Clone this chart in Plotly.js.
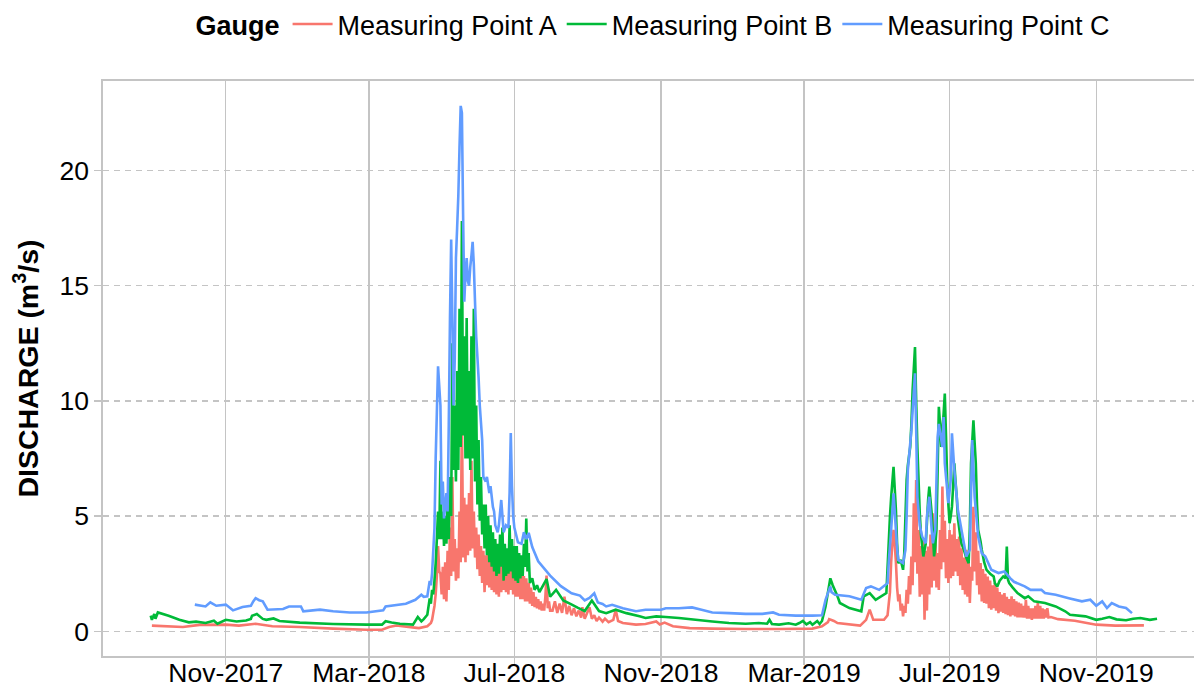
<!DOCTYPE html>
<html>
<head>
<meta charset="utf-8">
<script src="https://cdn.plot.ly/plotly-3.0.1.min.js"></script>
<style>html,body{margin:0;padding:0;background:#fff;}#chart{width:1194px;height:693px;}</style>
</head>
<body>
<div id="chart"></div>
<script>
// ---- Data ----
const seriesNames = ["Measuring Point A", "Measuring Point B", "Measuring Point C"];

const aDates = ["2017-08-31","2017-09-26","2017-10-10","2017-11-01","2017-11-12","2017-11-26","2017-12-10","2018-01-02","2018-01-30","2018-02-27","2018-03-12","2018-03-18","2018-03-24","2018-04-10","2018-04-12","2018-04-19",
"2018-04-22","2018-04-23","2018-04-24","2018-04-25","2018-04-26","2018-04-27","2018-04-28","2018-04-29","2018-04-30",
"2018-05-01","2018-05-02","2018-05-03","2018-05-04","2018-05-05","2018-05-06","2018-05-07","2018-05-08","2018-05-09","2018-05-10","2018-05-11","2018-05-12","2018-05-13","2018-05-14","2018-05-15","2018-05-16","2018-05-17","2018-05-18","2018-05-19","2018-05-20","2018-05-21","2018-05-22","2018-05-23","2018-05-24","2018-05-25","2018-05-26","2018-05-27","2018-05-28","2018-05-29","2018-05-30","2018-05-31",
"2018-06-01","2018-06-02","2018-06-03","2018-06-04","2018-06-05","2018-06-06","2018-06-07","2018-06-08","2018-06-09","2018-06-10","2018-06-11","2018-06-12","2018-06-13","2018-06-14","2018-06-15","2018-06-16","2018-06-17","2018-06-18","2018-06-19","2018-06-20","2018-06-21","2018-06-22","2018-06-23","2018-06-24","2018-06-25","2018-06-26","2018-06-27","2018-06-28","2018-06-29","2018-06-30",
"2018-07-01","2018-07-02","2018-07-03","2018-07-04","2018-07-05","2018-07-06","2018-07-07","2018-07-08","2018-07-09","2018-07-10","2018-07-11","2018-07-12","2018-07-13","2018-07-14","2018-07-15","2018-07-16","2018-07-17","2018-07-18","2018-07-19","2018-07-20","2018-07-21","2018-07-22","2018-07-23","2018-07-24","2018-07-25","2018-07-26","2018-07-27","2018-07-28","2018-07-29","2018-07-30","2018-07-31",
"2018-08-02","2018-08-04","2018-08-06","2018-08-08","2018-08-10","2018-08-12","2018-08-14","2018-08-16","2018-08-18","2018-08-20","2018-08-22","2018-08-24","2018-08-26","2018-08-27","2018-08-29","2018-08-31","2018-09-02","2018-09-04","2018-09-06","2018-09-08","2018-09-10","2018-09-13","2018-09-15","2018-09-18","2018-09-22","2018-09-24","2018-09-26","2018-09-30",
"2018-10-11","2018-10-19","2018-10-28","2018-10-31","2018-11-04","2018-11-11","2018-11-25","2018-12-14","2019-01-11","2019-02-08","2019-03-08","2019-03-16","2019-03-21","2019-03-22","2019-03-26","2019-03-29","2019-04-17","2019-04-22","2019-04-25","2019-04-28","2019-05-07",
"2019-05-10","2019-05-11","2019-05-12","2019-05-13","2019-05-14","2019-05-15","2019-05-16","2019-05-17","2019-05-18","2019-05-19","2019-05-20","2019-05-21","2019-05-22","2019-05-23","2019-05-24","2019-05-25","2019-05-26","2019-05-27","2019-05-28","2019-05-29","2019-05-30","2019-05-31",
"2019-06-01","2019-06-02","2019-06-03","2019-06-04","2019-06-05","2019-06-06","2019-06-07","2019-06-08","2019-06-09","2019-06-10","2019-06-11","2019-06-12","2019-06-13","2019-06-14","2019-06-15","2019-06-16","2019-06-17","2019-06-18","2019-06-19","2019-06-20","2019-06-21","2019-06-22","2019-06-23","2019-06-24","2019-06-25","2019-06-26","2019-06-27","2019-06-28","2019-06-29","2019-06-30",
"2019-07-01","2019-07-02","2019-07-03","2019-07-04","2019-07-05","2019-07-06","2019-07-07","2019-07-08","2019-07-09","2019-07-10","2019-07-11","2019-07-12","2019-07-13","2019-07-14","2019-07-15","2019-07-16","2019-07-17","2019-07-18","2019-07-19","2019-07-20","2019-07-21","2019-07-22","2019-07-23","2019-07-24","2019-07-25","2019-07-26","2019-07-27","2019-07-28","2019-07-29","2019-07-30","2019-07-31",
"2019-08-01","2019-08-02","2019-08-03","2019-08-04","2019-08-05","2019-08-06","2019-08-07","2019-08-08","2019-08-09","2019-08-10","2019-08-11","2019-08-12","2019-08-13","2019-08-14","2019-08-15","2019-08-16","2019-08-17","2019-08-18","2019-08-19","2019-08-20","2019-08-21","2019-08-22","2019-08-23","2019-08-24","2019-08-25","2019-08-26","2019-08-27","2019-08-28","2019-08-29","2019-08-30","2019-08-31",
"2019-09-01","2019-09-02","2019-09-03","2019-09-04","2019-09-05","2019-09-06","2019-09-07","2019-09-08","2019-09-09","2019-09-10","2019-09-11","2019-09-12","2019-09-13","2019-09-14","2019-09-15","2019-09-16","2019-09-17","2019-09-18","2019-09-19","2019-09-20","2019-09-21","2019-09-22",
"2019-09-24","2019-09-30","2019-10-14","2019-11-01","2019-11-17","2019-12-11"];
const aVals = [0.25,0.19,0.28,0.29,0.25,0.33,0.22,0.19,0.12,0.07,0.07,0.19,0.25,0.15,0.14,0.22,
0.36,0.5,0.8,1.1,1.6,2.4,3.7,2.6,2.5,
1.6,2.8,1.4,3.0,1.3,3.5,1.8,4.5,2.4,6.7,2.6,4.0,2.2,3.6,2.3,5.2,3.0,9.6,3.2,5.8,3.0,5.5,3.3,6.0,3.5,7.4,3.6,5.2,3.2,4.5,2.7,
4.2,2.4,3.7,2.1,3.5,1.7,3.3,2.0,3.4,1.9,3.2,1.8,3.0,1.7,3.1,1.6,2.8,1.5,3.0,1.7,3.3,1.8,3.0,1.7,2.9,1.6,3.4,1.8,3.0,1.6,
2.8,1.5,2.7,1.5,2.6,1.4,2.5,1.4,2.4,1.3,2.3,1.3,2.1,1.2,1.9,1.1,1.7,1.05,1.5,1.0,1.4,0.95,1.3,0.9,1.2,0.9,1.5,2.42,1.0,1.3,0.9,
0.9,1.3,0.8,1.2,0.8,1.5,0.75,1.1,0.7,1.0,0.65,0.9,0.6,1.05,0.55,0.8,1.05,0.55,0.7,0.45,0.6,0.42,0.55,0.4,0.5,0.94,0.45,0.36,
0.29,0.32,0.43,0.3,0.38,0.22,0.14,0.12,0.1,0.1,0.12,0.22,0.4,0.53,0.45,0.36,0.25,0.5,0.94,0.5,0.5,
0.7,1.2,1.7,3.0,3.8,4.4,3.8,3.0,1.9,1.3,1.6,0.9,1.2,0.65,1.1,0.8,1.8,1.2,2.4,1.6,3.25,2.0,
5.56,3.0,6.57,2.5,4.4,1.5,3.7,1.6,4.0,0.5,3.5,0.9,3.68,1.6,4.2,1.9,5.12,2.2,4.3,1.9,3.4,1.8,4.4,2.7,6.28,3.0,4.8,2.3,4.0,2.1,
4.4,2.3,4.2,2.4,4.69,2.6,4.0,2.4,4.11,2.0,3.6,1.8,3.2,1.6,3.54,1.5,3.0,1.23,2.8,2.2,5.41,2.6,4.3,2.0,3.5,1.6,2.96,1.3,2.7,1.23,2.5,
1.2,2.38,1.0,2.2,0.94,2.0,1.0,2.09,0.9,1.9,0.79,1.7,0.85,1.6,0.8,1.66,0.75,1.5,0.7,1.4,0.65,1.52,0.7,1.4,0.65,1.3,0.6,1.25,0.6,1.2,0.6,
1.1,0.6,1.37,0.55,1.1,0.55,1.0,0.5,1.0,0.55,1.1,0.55,1.23,0.55,1.1,0.55,1.0,0.55,0.95,0.6,1.0,0.6,
0.62,0.53,0.46,0.29,0.25,0.26];

const bDates = ["2017-08-30","2017-08-31","2017-09-02","2017-09-03","2017-09-05","2017-09-14","2017-09-23","2017-10-01","2017-10-07","2017-10-15","2017-10-22","2017-10-25","2017-11-01","2017-11-10","2017-11-18","2017-11-22","2017-11-23","2017-11-27","2017-12-02","2017-12-05","2017-12-11","2017-12-16","2018-01-02","2018-01-30","2018-02-27","2018-03-12","2018-03-15","2018-03-20","2018-03-27","2018-04-07","2018-04-11","2018-04-14","2018-04-16","2018-04-19",
"2018-04-21","2018-04-22","2018-04-23","2018-04-24","2018-04-25","2018-04-26","2018-04-27","2018-04-28","2018-04-29","2018-04-30",
"2018-05-01","2018-05-02","2018-05-03","2018-05-04","2018-05-05","2018-05-06","2018-05-07","2018-05-08","2018-05-09","2018-05-10","2018-05-11","2018-05-12","2018-05-13","2018-05-14","2018-05-15","2018-05-16","2018-05-17","2018-05-18","2018-05-19","2018-05-20","2018-05-21","2018-05-22","2018-05-23","2018-05-24","2018-05-25","2018-05-26","2018-05-27","2018-05-28","2018-05-29","2018-05-30","2018-05-31",
"2018-06-01","2018-06-02","2018-06-03","2018-06-04","2018-06-05","2018-06-06","2018-06-07","2018-06-08","2018-06-09","2018-06-10","2018-06-11","2018-06-12","2018-06-13","2018-06-14","2018-06-15","2018-06-16","2018-06-17","2018-06-18","2018-06-19","2018-06-20","2018-06-21","2018-06-22","2018-06-23","2018-06-24","2018-06-25","2018-06-26","2018-06-27","2018-06-28","2018-06-29","2018-06-30",
"2018-07-01","2018-07-02","2018-07-03","2018-07-04","2018-07-05","2018-07-06","2018-07-07","2018-07-08","2018-07-09","2018-07-10","2018-07-11","2018-07-12","2018-07-13","2018-07-14","2018-07-16","2018-07-18","2018-07-20","2018-07-22",
"2018-07-28","2018-07-31","2018-08-05","2018-08-11","2018-08-17","2018-08-23","2018-08-29","2018-09-04","2018-09-10","2018-09-16","2018-09-24","2018-10-03","2018-10-14","2018-10-19","2018-10-28","2018-11-05","2018-11-16","2018-11-30","2018-12-14","2018-12-28","2019-01-11","2019-01-22","2019-01-29","2019-01-31","2019-02-02","2019-02-08","2019-02-16","2019-02-22","2019-02-25","2019-02-28","2019-03-03","2019-03-06","2019-03-08","2019-03-12","2019-03-14","2019-03-16","2019-03-19","2019-03-23","2019-03-25","2019-03-29","2019-03-31","2019-04-08","2019-04-18","2019-04-20","2019-04-25","2019-04-30","2019-05-09","2019-05-12","2019-05-13","2019-05-15","2019-05-17","2019-05-18","2019-05-19","2019-05-21","2019-05-23","2019-05-24","2019-05-26","2019-05-27","2019-05-29","2019-05-30","2019-05-31","2019-06-02","2019-06-03","2019-06-04","2019-06-06","2019-06-07","2019-06-09","2019-06-11","2019-06-12","2019-06-13","2019-06-14","2019-06-16","2019-06-17","2019-06-18","2019-06-19","2019-06-20","2019-06-21","2019-06-22","2019-06-23","2019-06-24","2019-06-25","2019-06-26","2019-06-27","2019-06-28","2019-06-29","2019-06-30","2019-07-01","2019-07-02","2019-07-03","2019-07-04","2019-07-05","2019-07-06","2019-07-07","2019-07-08","2019-07-10","2019-07-11","2019-07-13","2019-07-15","2019-07-17","2019-07-18","2019-07-19","2019-07-21","2019-07-22","2019-07-23","2019-07-24","2019-07-25","2019-07-27","2019-07-28","2019-07-30","2019-08-01","2019-08-04","2019-08-07","2019-08-08","2019-08-10","2019-08-12","2019-08-15","2019-08-17","2019-08-18","2019-08-19","2019-08-20","2019-08-23","2019-08-27","2019-09-02","2019-09-05","2019-09-10","2019-09-19","2019-09-28","2019-10-06","2019-10-10","2019-10-23","2019-11-01","2019-11-06","2019-11-12","2019-11-18","2019-11-26","2019-12-02","2019-12-08","2019-12-16","2019-12-22"];
const bVals = [0.68,0.5,0.75,0.55,0.82,0.68,0.5,0.39,0.42,0.36,0.46,0.33,0.5,0.43,0.47,0.54,0.68,0.75,0.54,0.5,0.56,0.45,0.38,0.32,0.29,0.29,0.44,0.38,0.33,0.29,0.62,0.43,0.53,0.72,
1.43,1.2,1.8,1.6,2.2,2.95,4.0,5.2,4.0,7.4,
4.0,5.2,3.7,5.0,3.8,5.5,4.0,6.7,5.0,12.5,7.0,9.8,6.5,11.3,7.0,14.0,8.0,17.8,8.5,12.8,7.5,13.6,7.5,11.3,7.0,12.8,7.5,14.0,6.5,9.8,5.5,
8.3,4.8,6.7,4.2,5.5,3.6,5.5,3.3,5.0,3.0,4.6,2.8,4.3,2.6,4.0,2.4,3.8,2.5,4.2,2.8,4.5,2.2,3.8,2.4,3.6,2.5,4.6,2.6,4.0,2.3,
3.7,2.2,3.7,2.1,3.4,2.3,3.3,2.4,3.8,2.8,4.9,2.6,3.4,2.1,2.3,1.8,2.0,1.7,
2.27,1.5,1.8,1.34,1.19,1.03,0.88,1.34,0.88,0.79,0.94,0.79,0.65,0.58,0.65,0.62,0.58,0.5,0.43,0.36,0.33,0.36,0.33,0.5,0.32,0.29,0.35,0.29,0.36,0.45,0.3,0.4,0.29,0.45,0.32,0.45,1.08,2.3,2.0,1.52,1.23,1.01,0.87,1.52,1.66,1.37,1.66,4.98,5.8,7.14,5.27,3.8,2.96,3.1,2.67,3.4,6.57,7.2,8.0,9.0,10.46,12.34,10.0,8.0,5.12,4.2,3.25,3.8,4.69,5.7,6.28,5.12,4.3,3.25,3.7,4.4,7.0,9.74,9.0,8.0,8.8,9.45,10.32,8.5,6.57,5.5,4.69,5.0,5.41,6.3,7.29,6.5,5.84,4.9,4.11,3.8,3.54,3.2,2.96,4.5,7.29,9.16,8.2,7.29,5.5,4.4,3.9,3.54,3.0,2.67,2.5,2.38,2.09,1.95,2.2,2.38,2.3,3.68,2.24,2.09,1.9,1.66,1.44,1.52,1.3,1.23,1.08,0.87,0.72,0.65,0.5,0.55,0.62,0.52,0.48,0.55,0.58,0.5,0.55];

const cDates = ["2017-10-06","2017-10-15","2017-10-19","2017-10-24","2017-11-01","2017-11-07","2017-11-15","2017-11-22","2017-11-24","2017-11-26","2017-11-29","2017-12-02","2017-12-06","2017-12-19","2017-12-24","2018-01-03","2018-01-05","2018-01-19","2018-01-30","2018-02-13","2018-02-27","2018-03-13","2018-03-15","2018-04-01","2018-04-09","2018-04-14","2018-04-16","2018-04-19","2018-04-21","2018-04-22","2018-04-23","2018-04-25","2018-04-26","2018-04-27","2018-04-28","2018-04-30","2018-05-01","2018-05-02","2018-05-03","2018-05-05","2018-05-06","2018-05-07","2018-05-08","2018-05-09","2018-05-10","2018-05-11","2018-05-12","2018-05-13","2018-05-14","2018-05-15","2018-05-16","2018-05-17","2018-05-18","2018-05-19","2018-05-20","2018-05-21","2018-05-22","2018-05-23","2018-05-24","2018-05-25","2018-05-26","2018-05-27","2018-05-28","2018-05-29","2018-05-30","2018-06-01","2018-06-02","2018-06-04","2018-06-05","2018-06-07","2018-06-08","2018-06-10","2018-06-11","2018-06-13","2018-06-14","2018-06-15","2018-06-17","2018-06-18","2018-06-20","2018-06-21","2018-06-22","2018-06-24","2018-06-26","2018-06-27","2018-06-28","2018-06-29","2018-06-30","2018-07-01","2018-07-04","2018-07-07","2018-07-09","2018-07-11","2018-07-13","2018-07-16","2018-07-21","2018-07-31","2018-08-09","2018-08-18","2018-08-25","2018-08-29","2018-09-02","2018-09-06","2018-09-09","2018-09-13","2018-09-16","2018-09-21","2018-09-30","2018-10-11","2018-10-19","2018-11-01","2018-11-05","2018-11-16","2018-11-27","2018-12-05","2018-12-14","2018-12-28","2019-01-11","2019-01-25","2019-02-03","2019-02-08","2019-02-22","2019-03-08","2019-03-16","2019-03-19","2019-03-20","2019-03-23","2019-03-24","2019-03-27","2019-04-08","2019-04-18","2019-04-22","2019-04-26","2019-05-03","2019-05-10","2019-05-11","2019-05-13","2019-05-15","2019-05-17","2019-05-18","2019-05-19","2019-05-23","2019-05-25","2019-05-26","2019-05-27","2019-05-30","2019-06-02","2019-06-03","2019-06-04","2019-06-06","2019-06-08","2019-06-11","2019-06-12","2019-06-14","2019-06-16","2019-06-17","2019-06-19","2019-06-20","2019-06-21","2019-06-22","2019-06-25","2019-06-26","2019-06-27","2019-06-30","2019-07-02","2019-07-03","2019-07-05","2019-07-08","2019-07-11","2019-07-15","2019-07-18","2019-07-19","2019-07-20","2019-07-22","2019-07-25","2019-07-28","2019-07-31","2019-08-05","2019-08-11","2019-08-16","2019-08-21","2019-08-24","2019-09-02","2019-09-07","2019-09-16","2019-09-19","2019-09-28","2019-10-09","2019-10-20","2019-10-27","2019-11-01","2019-11-06","2019-11-10","2019-11-14","2019-11-20","2019-11-26","2019-12-01"];
const cVals = [1.16,1.08,1.26,1.11,1.16,0.91,1.06,1.11,1.3,1.44,1.35,1.3,0.94,0.97,1.08,1.08,0.87,0.94,0.87,0.82,0.82,0.91,1.08,1.2,1.37,1.59,1.5,1.52,2.19,2.0,2.53,4.47,7.5,9.5,11.5,9.8,5.5,6.5,4.9,6.0,5.2,9.0,13.6,17.0,13.6,9.8,11.8,16.2,17.5,18.9,21.0,22.8,22.5,18.1,14.3,15.5,16.2,15.2,15.0,15.8,16.3,16.9,15.9,14.3,12.8,11.0,9.8,8.3,6.7,6.5,6.7,6.0,6.3,5.4,5.2,4.6,4.3,4.6,5.7,5.0,4.3,4.6,4.5,6.0,8.6,6.3,5.0,4.5,3.86,3.8,4.3,4.0,4.27,3.66,3.04,2.42,1.96,1.65,1.55,1.34,1.45,1.65,1.25,1.19,1.08,1.15,1.0,0.87,0.94,0.94,1.0,1.0,1.04,0.94,0.82,0.79,0.76,0.76,0.82,0.72,0.68,0.68,0.7,1.37,1.52,1.95,1.7,1.59,1.52,1.37,1.88,1.95,1.8,2.09,3.0,4.4,5.99,4.4,3.6,3.1,2.96,3.54,5.0,7.0,8.73,11.2,8.73,5.84,4.6,4.11,3.82,4.98,5.84,4.4,3.82,4.4,6.5,8.44,9.0,8.0,9.3,7.29,5.56,6.57,8.59,7.0,5.27,4.4,3.25,3.54,6.0,8.3,5.84,4.11,3.39,3.25,2.67,2.53,2.6,2.3,2.15,1.95,1.8,1.8,1.66,1.59,1.44,1.3,1.37,1.11,1.3,1.01,1.23,1.08,1.01,0.79];

const seriesColors = ["#F8766D", "#00BA38", "#619CFF"];
const tickDates = ["2017-11-01","2018-03-01","2018-07-01","2018-11-01","2019-03-01","2019-07-01","2019-11-01"];
const tickLabels = ["Nov-2017","Mar-2018","Jul-2018","Nov-2018","Mar-2019","Jul-2019","Nov-2019"];
const yTicks = [0, 5, 10, 15, 20];

// ---- Chart ----
const FONT = "Liberation Sans, Arial, sans-serif";
const GRID = "#c4c4c4";
const xs = [aDates, bDates, cDates];
const ys = [aVals, bVals, cVals];
const traces = seriesNames.map((n, i) => ({
  type: "scatter", mode: "lines", name: n,
  x: xs[i], y: ys[i],
  line: {color: seriesColors[i], width: 2.6, simplify: false},
  hoverinfo: "x+y+name"
}));

const layout = {
  width: 1194, height: 693,
  paper_bgcolor: "#ffffff", plot_bgcolor: "#ffffff",
  margin: {l: 103, r: 0, t: 80, b: 37, pad: 0},
  font: {family: FONT, color: "#000000", size: 26.5},
  showlegend: true,
  legend: {
    orientation: "h", x: 0.083, xanchor: "left", y: 1.098, yanchor: "middle",
    font: {family: FONT, size: 27, color: "#000"},
    title: {text: "<b>Gauge</b>", side: "left", font: {family: FONT, size: 27, color: "#000"}},
    itemwidth: 40, bgcolor: "rgba(0,0,0,0)", traceorder: "normal"
  },
  xaxis: {
    type: "date",
    range: ["2017-07-21", "2020-01-22"],
    tickmode: "array", tickvals: tickDates, ticktext: tickLabels,
    showgrid: true, gridcolor: GRID, gridwidth: 1.3,
    ticks: "outside", ticklen: 7, tickwidth: 1.3, tickcolor: GRID,
    ticklabelstandoff: -14,
    showline: true, linecolor: GRID, linewidth: 1.6, mirror: true,
    zeroline: false,
    tickfont: {family: FONT, size: 26.5, color: "#000"}
  },
  yaxis: {
    range: [-1.07, 23.88],
    tickmode: "array", tickvals: yTicks,
    showgrid: true, gridcolor: GRID, gridwidth: 1.3, griddash: "6px,5px",
    ticks: "outside", ticklen: 7, tickwidth: 1.3, tickcolor: GRID,
    showline: true, linecolor: GRID, linewidth: 1.6, mirror: false,
    zeroline: false,
    tickfont: {family: FONT, size: 26.5, color: "#000"},
    title: {text: "<b>DISCHARGE (m<sup>3</sup>/s)</b>", font: {family: FONT, size: 28.5, color: "#000"}, standoff: 12}
  }
};

Plotly.newPlot("chart", traces, layout, {displayModeBar: false, staticPlot: true});
</script>
</body>
</html>
